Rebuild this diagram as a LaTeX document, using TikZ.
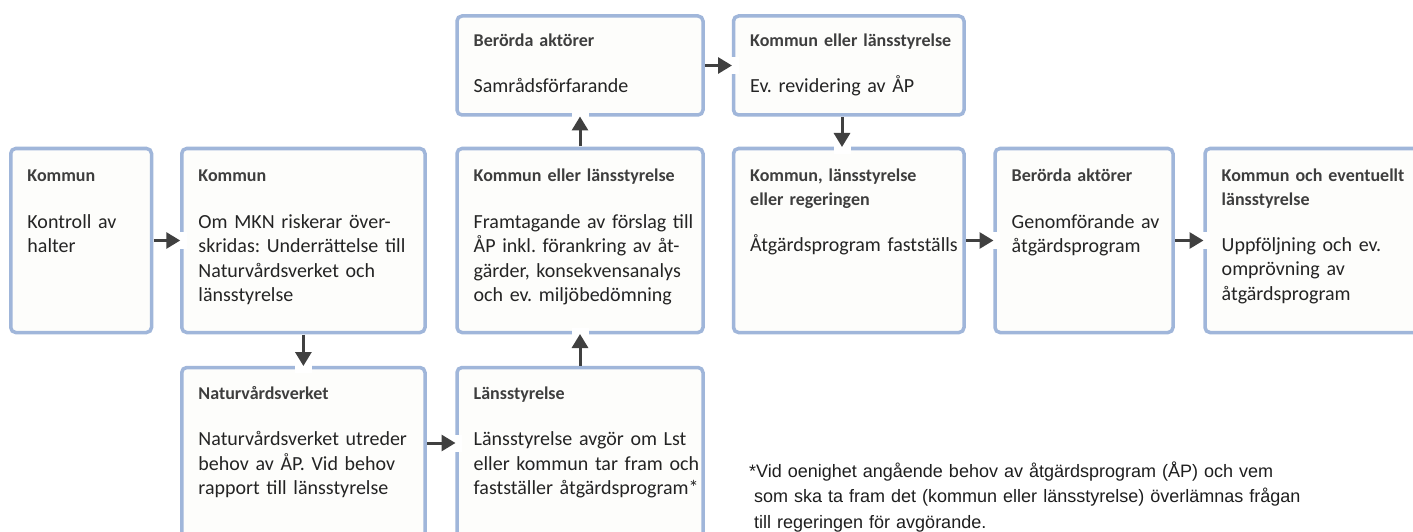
\documentclass[tikz,border=0pt]{standalone}
\usepackage{fontspec}
\setmainfont{Carlito}
\newfontfamily\notefont{Liberation Sans}
\usetikzlibrary{arrows.meta,calc}
\frenchspacing

\definecolor{boxline}{RGB}{160,182,218}
\definecolor{boxfill}{RGB}{253,253,251}
\definecolor{arrowc}{RGB}{64,64,64}
\definecolor{hdrc}{RGB}{62,62,62}
\definecolor{bodyc}{RGB}{36,36,36}
\definecolor{notec}{RGB}{30,30,30}

\tikzset{
  stage/.style={draw=boxline, fill=boxfill, line width=3.5pt, rounded corners=5pt,
    inner sep=0pt, outer sep=0pt, anchor=north west},
  hdr/.style={font=\fontsize{18}{23.5}\selectfont\bfseries, text=hdrc, anchor=base west,
    inner sep=0pt, text width=300pt, align=left},
  body/.style={font=\fontsize{20}{24.6}\selectfont, text=bodyc, anchor=base west,
    inner sep=0pt, text width=300pt, align=left},
  note/.style={font=\notefont\fontsize{18}{25.5}\selectfont, text=notec, anchor=base west,
    inner sep=0pt, text width=640pt, align=left},
  halo/.style={draw=white, line width=3pt, shorten <=2pt, shorten >=-5pt,
    -{Rectangle[length=9pt,width=17pt]}},
  conn/.style={draw=arrowc, line width=3pt, shorten <=2pt, shorten >=1.5pt,
    -{Triangle[length=14pt,width=16pt]}},
}

% box between two corner points (border centre line)
\newcommand\stagebox[5]{%
  \node[stage, minimum width={(#4-#2)*1pt}, minimum height={(#5-#3)*1pt}] (#1) at (#2,#3) {};}
% connector: white gap in the target border, then the dark arrow
\newcommand\flowarrow[2]{\draw[halo] #1 -- #2; \draw[conn] #1 -- #2;}

\begin{document}
\begin{tikzpicture}[x=1pt, y=-1pt]
  \useasboundingbox[fill=white] (0,0) rectangle (1413,532);
  \clip (0,0) rectangle (1413,532);

  % boxes
  \stagebox{b1}{10.75}{148.5}{151.5}{332.5}
  \stagebox{b2}{181.75}{148.5}{425}{332.5}
  \stagebox{b3}{181.75}{367.5}{425}{545}
  \stagebox{b4}{457}{367.5}{703}{545}
  \stagebox{b5}{457}{148.5}{703}{332.5}
  \stagebox{b6}{457}{16}{703}{115}
  \stagebox{b7}{733.5}{16}{964}{115}
  \stagebox{b8}{733.5}{148.5}{964}{332.5}
  \stagebox{b9}{995}{148.5}{1173}{332.5}
  \stagebox{b10}{1205}{148.5}{1430}{332.5}

  % texts
  \node[hdr]  (h1) at ([shift={(16.5,33)}]b1.north west) {Kommun};
  \node[body] (t1) at ([shift={(16.5,79.5)}]b1.north west) {Kontroll av\\halter};

  \node[hdr]  (h2) at ([shift={(16.5,33)}]b2.north west) {Kommun};
  \node[body] (t2) at ([shift={(16.5,79.5)}]b2.north west)
    {Om MKN riskerar över-\\skridas: Underrättelse till\\Naturvårdsverket och\\länsstyrelse};

  \node[hdr]  (h3) at ([shift={(16.5,31.5)}]b3.north west) {Naturvårdsverket};
  \node[body] (t3) at ([shift={(16.5,78)}]b3.north west)
    {Naturvårdsverket utreder\\behov av ÅP. Vid behov\\rapport till länsstyrelse};

  \node[hdr]  (h4) at ([shift={(16.5,31.5)}]b4.north west) {Länsstyrelse};
  \node[body] (t4) at ([shift={(16.5,78)}]b4.north west)
    {Länsstyrelse avgör om Lst\\eller kommun tar fram och\\fastställer åtgärdsprogram*};

  \node[hdr]  (h5) at ([shift={(16.5,33)}]b5.north west) {Kommun eller länsstyrelse};
  \node[body] (t5) at ([shift={(16.5,79.5)}]b5.north west)
    {Framtagande av förslag till\\ÅP inkl. förankring av åt-\\gärder, konsekvensanalys\\och ev. miljöbedömning};

  \node[hdr]  (h6) at ([shift={(16.5,31)}]b6.north west) {Berörda aktörer};
  \node[body] (t6) at ([shift={(16.5,77)}]b6.north west) {Samrådsförfarande};

  \node[hdr]  (h7) at ([shift={(16.5,31)}]b7.north west) {Kommun eller länsstyrelse};
  \node[body] (t7) at ([shift={(16.5,77)}]b7.north west) {Ev. revidering av ÅP};

  \node[hdr]  (h8) at ([shift={(16.5,33)}]b8.north west) {Kommun, länsstyrelse\\eller regeringen};
  \node[body] (t8) at ([shift={(16.5,102.5)}]b8.north west) {Åtgärdsprogram fastställs};

  \node[hdr]  (h9) at ([shift={(16.5,33)}]b9.north west) {Berörda aktörer};
  \node[body] (t9) at ([shift={(16.5,79.5)}]b9.north west) {Genomförande av\\åtgärdsprogram};

  \node[hdr]  (h10) at ([shift={(16.5,33)}]b10.north west) {Kommun och eventuellt\\länsstyrelse};
  \node[body] (t10) at ([shift={(16.5,102.5)}]b10.north west)
    {Uppföljning och ev.\\omprövning av\\åtgärdsprogram};

  % connectors
  \flowarrow{(b1.east)}{(b2.west)}
  \flowarrow{(b2.south)}{(b3.north)}
  \flowarrow{($(b3.north east)+(0,75.5)$)}{($(b4.north west)+(0,75.5)$)}
  \flowarrow{(b4.north)}{(b5.south)}
  \flowarrow{(b5.north)}{(b5.north |- b6.south)}
  \flowarrow{(b6.east)}{(b7.west)}
  \flowarrow{($(b7.south west)+(108.5,0)$)}{($(b8.north west)+(108.5,0)$)}
  \flowarrow{(b8.east)}{(b9.west)}
  \flowarrow{(b9.east)}{(b10.west)}

  % footnote
  \node[note] (fn) at (749,477)
    {*Vid oenighet angående behov av åtgärdsprogram (ÅP) och vem\\
     \hspace*{5pt}som ska ta fram det (kommun eller länsstyrelse) överlämnas frågan\\
     \hspace*{5pt}till regeringen för avgörande.};
\end{tikzpicture}
\end{document}
